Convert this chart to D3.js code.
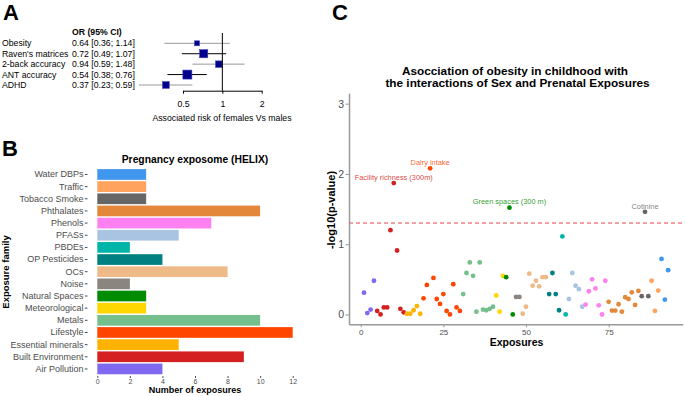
<!DOCTYPE html>
<html>
<head>
<meta charset="utf-8">
<script src="https://cdn.jsdelivr.net/npm/d3@7"></script>
<style>
body { margin: 0; background: white; }
text { font-family: "Liberation Sans", Arial, sans-serif; }
</style>
</head>
<body>
<div id="container"></div>
<script>
let w = 685;
let h = 396;

// panel A: odds ratios
let outcomes = ["Obesity", "Raven's matrices", "2-back accuracy", "ANT accuracy", "ADHD"];
let orEst = [0.64, 0.72, 0.94, 0.54, 0.37];
let orLow = [0.36, 0.49, 0.59, 0.38, 0.23];
let orHigh = [1.14, 1.07, 1.48, 0.76, 0.59];
let orWeight = [0.55, 0.9, 0.72, 1, 0.74];
let orTicks = [0.5, 1, 2];

// panel B: exposure families (top to bottom)
let families = ["Water DBPs", "Traffic", "Tobacco Smoke", "Phthalates", "Phenols", "PFASs", "PBDEs",
  "OP Pesticides", "OCs", "Noise", "Natural Spaces", "Meteorological", "Metals", "Lifestyle",
  "Essential minerals", "Built Environment", "Air Pollution"];
let familyCounts = [3, 3, 3, 10, 7, 5, 2, 4, 8, 2, 3, 3, 10, 12, 5, 9, 4];
let countTicks = [0, 2, 4, 6, 8, 10, 12];

// panel C: -log10(p) per exposure, exposures 1..93 ordered by family (alphabetical)
let logP = [
  0.31, 0.02, 0.07, 0.48,                                   // Air Pollution
  0.05, 0.00, 0.10, 0.10, 1.20, 1.87, 0.91, 0.08, 0.03,     // Built Environment
  0.01, 0.01, 0.06, 0.12, 0.01,                             // Essential minerals
  0.23, 0.42, 2.08, 0.52, 0.22, 0.15, 0.29, 0.05, 0.00, 0.43, 0.10, 0.05, // Lifestyle
  0.29, 0.59, 0.74, 0.55, 0.04, 0.74, 0.07, 0.06, 0.08, 0.11, // Metals
  0.27, 0.04, 0.55,                                         // Meteorological
  0.53, 1.52, 0.00,                                         // Natural Spaces
  0.25, 0.25,                                               // Noise
  0.01, 0.11, 0.58, 0.41, 0.48, 0.40, 0.53, 0.53,           // OCs
  0.29, 0.59, 0.29, 0.06,                                   // OP Pesticides
  1.11, 0.00,                                               // PBDEs
  0.22, 0.59, 0.41, 0.36, 0.11,                             // PFASs
  0.14, 0.33, 0.50, 0.37, 0.13, 0.00, 0.48,                 // Phenols
  0.18, 0.055, 0.055, 0.145, 0.04, 0.245, 0.22, 0.315, 0.135, 0.335, // Phthalates
  0.26, 1.46, 0.26,                                         // Tobacco Smoke
  0.48, 0.05, 0.34,                                         // Traffic
  0.79, 0.21, 0.63                                          // Water DBPs
];
let labelIndex = [10, 21, 45, 86];
let labelNames = ["Facility richness (300m)", "Dairy intake", "Green spaces (300 m)", "Cotinine"];
let threshold = -Math.log10(0.05);

let colors = ["#4196EE", "#FFA35F", "#666666", "#E3883A", "#FF80F0", "#A8C4E2", "#00B4A8",
  "#008080", "#EDBA88", "#8B8580", "#008B00", "#FFD700", "#74BF8C", "#FF4500",
  "#FFB300", "#D42020", "#8068F0"];
let colorScale = d3.scaleOrdinal().domain(families).range(colors);

let viz = d3.select("#container")
  .append("svg")
    .attr("width", w)
    .attr("height", h)
    .style("background-color", "white")
;

// panel letters
viz.append("text").text("A").attr("x", 3).attr("y", 19.5).attr("font-size", 22).attr("font-weight", "bold");
viz.append("text").text("B").attr("x", 2).attr("y", 156).attr("font-size", 22).attr("font-weight", "bold");
viz.append("text").text("C").attr("x", 332).attr("y", 20).attr("font-size", 22).attr("font-weight", "bold");

// ---------------- panel A ----------------
let aFont = 8.7;
let yA = d3.scalePoint().domain(outcomes).range([43.3, 85]);
let xA = d3.scaleLog().base(2).domain([0.5, 2]).range([183, 261.7]);
let sizeA = d3.scaleLinear().domain([0, 1]).range([0, 9]);
let fmt = d3.format(".2f");

viz.append("text").text("OR (95% CI)")
  .attr("x", 72).attr("y", 35).attr("font-size", aFont).attr("font-weight", "bold");

let rowsA = viz.selectAll(".rowA").data(outcomes).enter()
  .append("g")
    .classed("rowA", true)
    .attr("transform", function(d){ return "translate(0," + yA(d) + ")"; })
;
rowsA.append("text").text(function(d){ return d; })
  .attr("x", 2).attr("y", 3).attr("font-size", aFont);
rowsA.append("text")
  .text(function(d, i){ return fmt(orEst[i]) + " [" + fmt(orLow[i]) + "; " + fmt(orHigh[i]) + "]"; })
  .attr("x", 72).attr("y", 3).attr("font-size", aFont);

// reference line at 1
viz.append("line")
  .attr("x1", xA(1)).attr("x2", xA(1))
  .attr("y1", 33).attr("y2", 90.7)
  .attr("stroke", "black").attr("stroke-width", 1);

rowsA.append("line")
  .attr("x1", function(d, i){ return xA(orLow[i]); })
  .attr("x2", function(d, i){ return xA(orHigh[i]); })
  .attr("y1", 0).attr("y2", 0)
  .attr("stroke", function(d, i){ return i % 2 == 1 ? "black" : "#999999"; })
  .attr("stroke-width", 1);
rowsA.append("rect")
  .attr("x", function(d, i){ return xA(orEst[i]) - sizeA(orWeight[i]) / 2; })
  .attr("y", function(d, i){ return -sizeA(orWeight[i]) / 2; })
  .attr("width", function(d, i){ return sizeA(orWeight[i]); })
  .attr("height", function(d, i){ return sizeA(orWeight[i]); })
  .attr("fill", "#00008B")
  .attr("stroke", "#3D3DB8").attr("stroke-width", 0.6);

let axisA = viz.append("g")
  .attr("transform", "translate(0,90.7)")
  .call(d3.axisBottom(xA).tickValues(orTicks).tickFormat(d3.format("")).tickSize(3).tickSizeOuter(0).tickPadding(7))
;
axisA.selectAll("text").attr("font-size", aFont).attr("fill", "black").style("font-family", "Liberation Sans, Arial, sans-serif");
axisA.selectAll("line").attr("stroke", "black");
axisA.select(".domain").attr("stroke", "black");

viz.append("text").text("Associated risk of females Vs males")
  .attr("x", 222).attr("y", 120.5).attr("text-anchor", "middle").attr("font-size", aFont);

// ---------------- panel B ----------------
let xB = d3.scaleLinear().domain([0, 12]).range([97.3, 292.7]);
let yB = d3.scaleBand().domain(families).range([168.4, 375]).paddingInner(0.12).paddingOuter(0.06);

viz.append("text").text("Pregnancy exposome (HELIX)")
  .attr("x", 195).attr("y", 162.5).attr("text-anchor", "middle")
  .attr("font-size", 10.3).attr("font-weight", "bold");

viz.selectAll(".bar").data(families).enter()
  .append("rect")
    .classed("bar", true)
    .attr("x", xB(0))
    .attr("y", function(d){ return yB(d); })
    .attr("width", function(d, i){ return xB(familyCounts[i]) - xB(0); })
    .attr("height", yB.bandwidth())
    .attr("fill", function(d){ return colorScale(d); })
;

let yAxisB = viz.append("g")
  .attr("transform", "translate(87.5,0)")
  .call(d3.axisLeft(yB).tickSize(2.7).tickPadding(1.2))
;
yAxisB.select(".domain").remove();
yAxisB.selectAll("text").attr("font-size", 9).attr("fill", "#4D4D4D").style("font-family", "Liberation Sans, Arial, sans-serif");
yAxisB.selectAll("line").attr("stroke", "#4D4D4D");

let xAxisB = viz.append("g")
  .attr("transform", "translate(0,376)")
  .call(d3.axisBottom(xB).tickValues(countTicks).tickSize(2).tickPadding(1.5))
;
xAxisB.select(".domain").remove();
xAxisB.selectAll("text").attr("font-size", 7).attr("fill", "#4D4D4D").style("font-family", "Liberation Sans, Arial, sans-serif");
xAxisB.selectAll("line").attr("stroke", "#4D4D4D");

viz.append("text").text("Number of exposures")
  .attr("x", 195).attr("y", 392.5).attr("text-anchor", "middle")
  .attr("font-size", 9).attr("font-weight", "bold");
viz.append("text").text("Exposure family")
  .attr("transform", "translate(8.5,272) rotate(-90)")
  .attr("text-anchor", "middle").attr("font-size", 9.5).attr("font-weight", "bold");

// ---------------- panel C ----------------
let xC = d3.scaleLinear().domain([-3.54, 97.4]).range([349, 682.7]);
let yC = d3.scaleLinear().domain([-0.14, 3.15]).range([324.3, 93.1]);

// family of each exposure, from the alphabetical family order
let alphaFamilies = families.slice().reverse();
let alphaCounts = familyCounts.slice().reverse();
let exposureFamily = [];
alphaFamilies.forEach(function(f, i){
  for (let k = 0; k < alphaCounts[i]; k++) exposureFamily.push(f);
});

viz.append("text").text("Asocciation of obesity in childhood with")
  .attr("x", 515).attr("y", 74.6).attr("text-anchor", "middle")
  .attr("font-size", 11.8).attr("font-weight", "bold");
viz.append("text").text("the interactions of Sex and Prenatal Exposures")
  .attr("x", 517.5).attr("y", 87.3).attr("text-anchor", "middle")
  .attr("font-size", 11.8).attr("font-weight", "bold");

viz.append("line")
  .attr("x1", xC.range()[0]).attr("x2", xC.range()[1])
  .attr("y1", yC(threshold)).attr("y2", yC(threshold))
  .attr("stroke", "#E8424F").attr("stroke-width", 1).attr("stroke-dasharray", "4,3");

let yAxisC = viz.append("g")
  .attr("transform", "translate(349,0)")
  .call(d3.axisLeft(yC).tickValues([0, 1, 2, 3]).tickFormat(d3.format("d")).tickSize(3.5).tickSizeOuter(0).tickPadding(1.5))
;
let xAxisC = viz.append("g")
  .attr("transform", "translate(0,324.3)")
  .call(d3.axisBottom(xC).tickValues([0, 25, 50, 75]).tickSize(3).tickSizeOuter(0).tickPadding(2))
;
[xAxisC, yAxisC].forEach(function(a){
  a.select(".domain").attr("stroke", "#999999").attr("stroke-width", 1.5);
  a.selectAll("line").attr("stroke", "#999999");
  a.selectAll("text").attr("fill", "#4D4D4D").style("font-family", "Liberation Sans, Arial, sans-serif");
});
yAxisC.selectAll("text").attr("font-size", 10.5);
xAxisC.selectAll("text").attr("font-size", 8);

viz.append("text").text("Exposures")
  .attr("x", 516.5).attr("y", 346).attr("text-anchor", "middle")
  .attr("font-size", 10.5).attr("font-weight", "bold");
viz.append("text").text("-log10(p-value)")
  .attr("transform", "translate(335,210) rotate(-90)")
  .attr("text-anchor", "middle").attr("font-size", 11).attr("font-weight", "bold");

viz.selectAll(".dot").data(logP).enter()
  .append("circle")
    .classed("dot", true)
    .attr("cx", function(d, i){ return xC(i + 1); })
    .attr("cy", function(d){ return yC(d); })
    .attr("r", 2.4)
    .attr("fill", function(d, i){ return colorScale(exposureFamily[i]); })
;

viz.selectAll(".lab").data(labelIndex).enter()
  .append("text")
    .classed("lab", true)
    .text(function(d, i){ return labelNames[i]; })
    .attr("x", function(d){ return xC(d); })
    .attr("y", function(d){ return yC(logP[d - 1]) - 3.2; })
    .attr("text-anchor", "middle")
    .attr("font-size", 7.4)
    .attr("fill", function(d){ return colorScale(exposureFamily[d - 1]); })
    .attr("fill-opacity", 0.85)
;
</script>
</body>
</html>
